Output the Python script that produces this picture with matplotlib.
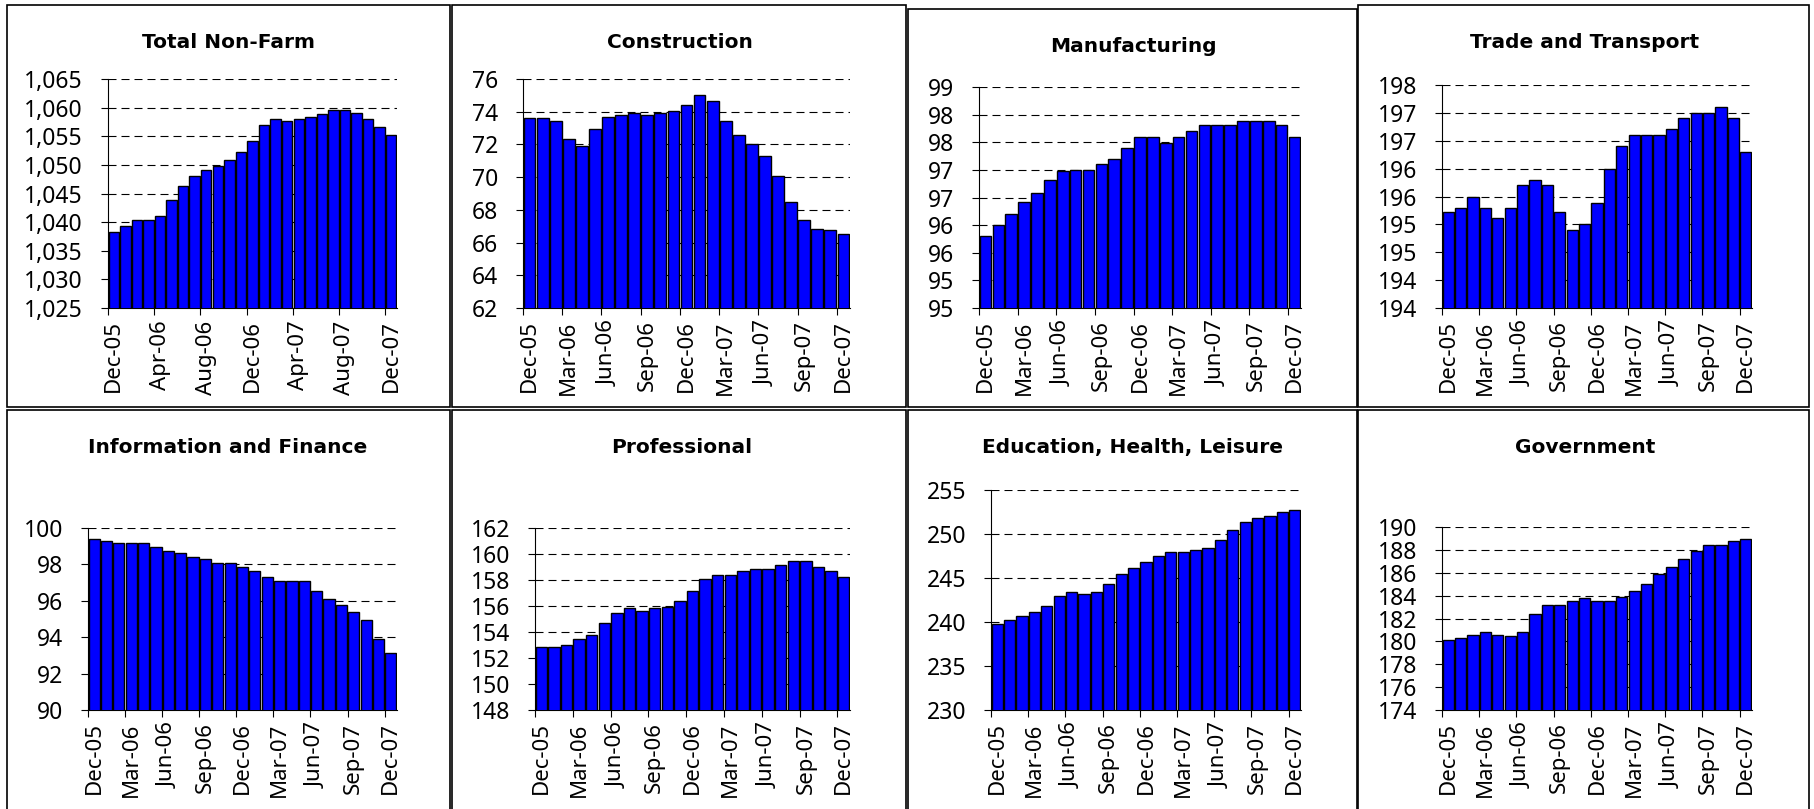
import matplotlib
matplotlib.use("Agg")
import matplotlib.pyplot as plt
from matplotlib.patches import Rectangle
import numpy as np

W, H = 1815, 809

months = ["Dec-05", "Jan-06", "Feb-06", "Mar-06", "Apr-06", "May-06", "Jun-06",
          "Jul-06", "Aug-06", "Sep-06", "Oct-06", "Nov-06", "Dec-06", "Jan-07",
          "Feb-07", "Mar-07", "Apr-07", "May-07", "Jun-07", "Jul-07", "Aug-07",
          "Sep-07", "Oct-07", "Nov-07", "Dec-07"]

total_nonfarm = [1038.3, 1039.3, 1040.3, 1040.3, 1041.0, 1043.8, 1046.3, 1048.0,
                 1049.1, 1049.8, 1050.8, 1052.2, 1054.2, 1057.0, 1058.1, 1057.7,
                 1058.1, 1058.4, 1058.8, 1059.5, 1059.5, 1059.1, 1058.1, 1056.7,
                 1055.3]
construction = [73.6, 73.6, 73.45, 72.35, 71.9, 72.95, 73.7, 73.8, 73.95, 73.8,
                73.95, 74.05, 74.4, 75.0, 74.65, 73.45, 72.6, 72.0, 71.3, 70.05,
                68.45, 67.35, 66.85, 66.75, 66.5]
manufacturing = [95.8, 96.0, 96.2, 96.41, 96.59, 96.82, 96.98, 97.0, 97.0, 97.1,
                 97.2, 97.39, 97.6, 97.6, 97.49, 97.6, 97.71, 97.82, 97.82, 97.82,
                 97.89, 97.89, 97.89, 97.82, 97.6]
trade_transport = [195.22, 195.29, 195.5, 195.29, 195.11, 195.29, 195.71, 195.79,
                   195.71, 195.22, 194.9, 195.0, 195.39, 196.0, 196.4, 196.61,
                   196.61, 196.61, 196.71, 196.9, 197.0, 197.0, 197.1, 196.9,
                   196.29]
info_finance = [99.41, 99.31, 99.2, 99.2, 99.2, 98.98, 98.76, 98.65, 98.43, 98.3,
                98.08, 98.08, 97.86, 97.64, 97.31, 97.09, 97.09, 97.09, 96.54,
                96.1, 95.78, 95.36, 94.92, 93.91, 93.14]
professional = [152.86, 152.86, 153.02, 153.48, 153.79, 154.71, 155.5, 155.81,
                155.65, 155.81, 155.94, 156.42, 157.19, 158.08, 158.42, 158.42,
                158.7, 158.85, 158.85, 159.18, 159.47, 159.47, 159.0, 158.7,
                158.24]
edu_health = [239.73, 240.19, 240.64, 241.1, 241.78, 242.92, 243.37, 243.14,
              243.37, 244.28, 245.42, 246.1, 246.78, 247.46, 247.92, 247.92,
              248.14, 248.37, 249.28, 250.42, 251.33, 251.78, 252.0, 252.46,
              252.69]
government = [180.11, 180.28, 180.6, 180.78, 180.6, 180.43, 180.78, 182.35,
              183.22, 183.22, 183.56, 183.75, 183.56, 183.56, 183.92, 184.44,
              185.0, 185.86, 186.54, 187.24, 187.93, 188.46, 188.46, 188.8,
              188.98]

titles = ["Total Non-Farm", "Construction", "Manufacturing", "Trade and Transport",
          "Information and Finance", "Professional", "Education, Health, Leisure",
          "Government"]
series = [total_nonfarm, construction, manufacturing, trade_transport,
          info_finance, professional, edu_health, government]

# y ticks per panel and their labels (Excel rounded the half steps)
yticks = [np.arange(1025, 1066, 5), np.arange(62, 77, 2), np.arange(94.5, 98.6, 0.5),
          np.arange(193.5, 197.6, 0.5), np.arange(90, 101, 2), np.arange(148, 163, 2),
          np.arange(230, 256, 5), np.arange(174, 191, 2)]
ylabels = [["1,025", "1,030", "1,035", "1,040", "1,045", "1,050", "1,055", "1,060", "1,065"],
           None,
           ["95", "95", "96", "96", "97", "97", "98", "98", "99"],
           ["194", "194", "195", "195", "196", "196", "197", "197", "198"],
           None, None, None, None]
xstep = [4, 3, 3, 3, 3, 3, 3, 3]

# pixel layout: axes (left, right, top, bottom), title centre, panel box
axes_px = [(108, 397, 79, 308), (523, 850, 79, 308), (979, 1301, 87, 308),
           (1442, 1752, 85, 308), (88, 397, 528, 710), (535, 850, 528, 710),
           (991, 1301, 490, 710), (1442, 1752, 527, 710)]
title_px = [(228, 42), (680, 42), (1133, 47), (1585, 42),
            (228, 447), (682, 447), (1133, 447), (1585, 447)]
boxes_px = [(7, 450, 5, 407), (452, 906, 5, 407), (908, 1357, 9, 407),
            (1358, 1809, 5, 407), (7, 450, 410, 815), (452, 906, 410, 815),
            (908, 1357, 410, 815), (1358, 1809, 410, 815)]

plt.rcParams['font.family'] = ['Noto Sans', 'DejaVu Sans']
fig = plt.figure(figsize=(W / 100, H / 100), dpi=100)

for (x0, x1, y0, y1) in boxes_px:
    fig.patches.append(Rectangle((x0 / W, 1 - y1 / H), (x1 - x0) / W, (y1 - y0) / H,
                                 transform=fig.transFigure, fill=False,
                                 edgecolor="black", linewidth=1.2))

x = np.arange(len(months))
for i in range(8):
    l, r, t, b = axes_px[i]
    ax = fig.add_axes([l / W, 1 - b / H, (r - l) / W, (b - t) / H])
    ax.bar(x, series[i], width=0.9, color="#0000FF", edgecolor="black",
           linewidth=1.0, zorder=3)
    ax.set_xlim(-0.5, len(months) - 0.5)
    ax.set_ylim(yticks[i][0], yticks[i][-1])
    ax.set_yticks(yticks[i])
    if ylabels[i] is not None:
        ax.set_yticklabels(ylabels[i])
    else:
        ax.set_yticklabels([str(int(v)) for v in yticks[i]])
    for v in yticks[i][1:]:
        ax.axhline(v, color="black", linestyle=(0, (7.2, 4.5)), linewidth=0.8, zorder=1)
    idx = list(range(0, len(months), xstep[i]))
    ax.set_xticks(idx)
    ax.set_xticklabels([months[j] for j in idx], rotation=90)
    ax.set_xticks([j - 0.5 for j in idx], minor=True)
    ax.tick_params(axis="x", which="major", length=0, pad=9, labelsize=16)
    ax.tick_params(axis="x", which="minor", length=5, width=0.8, direction="out")
    ax.tick_params(axis="y", length=5, width=0.8, pad=13, labelsize=16.5)
    for s in ["top", "right"]:
        ax.spines[s].set_visible(False)
    for s in ["left", "bottom"]:
        ax.spines[s].set_linewidth(0.8)
    ax.patch.set_alpha(0)
    tx, ty = title_px[i]
    fig.text(tx / W, 1 - ty / H, titles[i], ha="center", va="center",
             fontsize=14.5, fontweight="bold", family="DejaVu Sans")

fig.savefig("out.png", dpi=100)
